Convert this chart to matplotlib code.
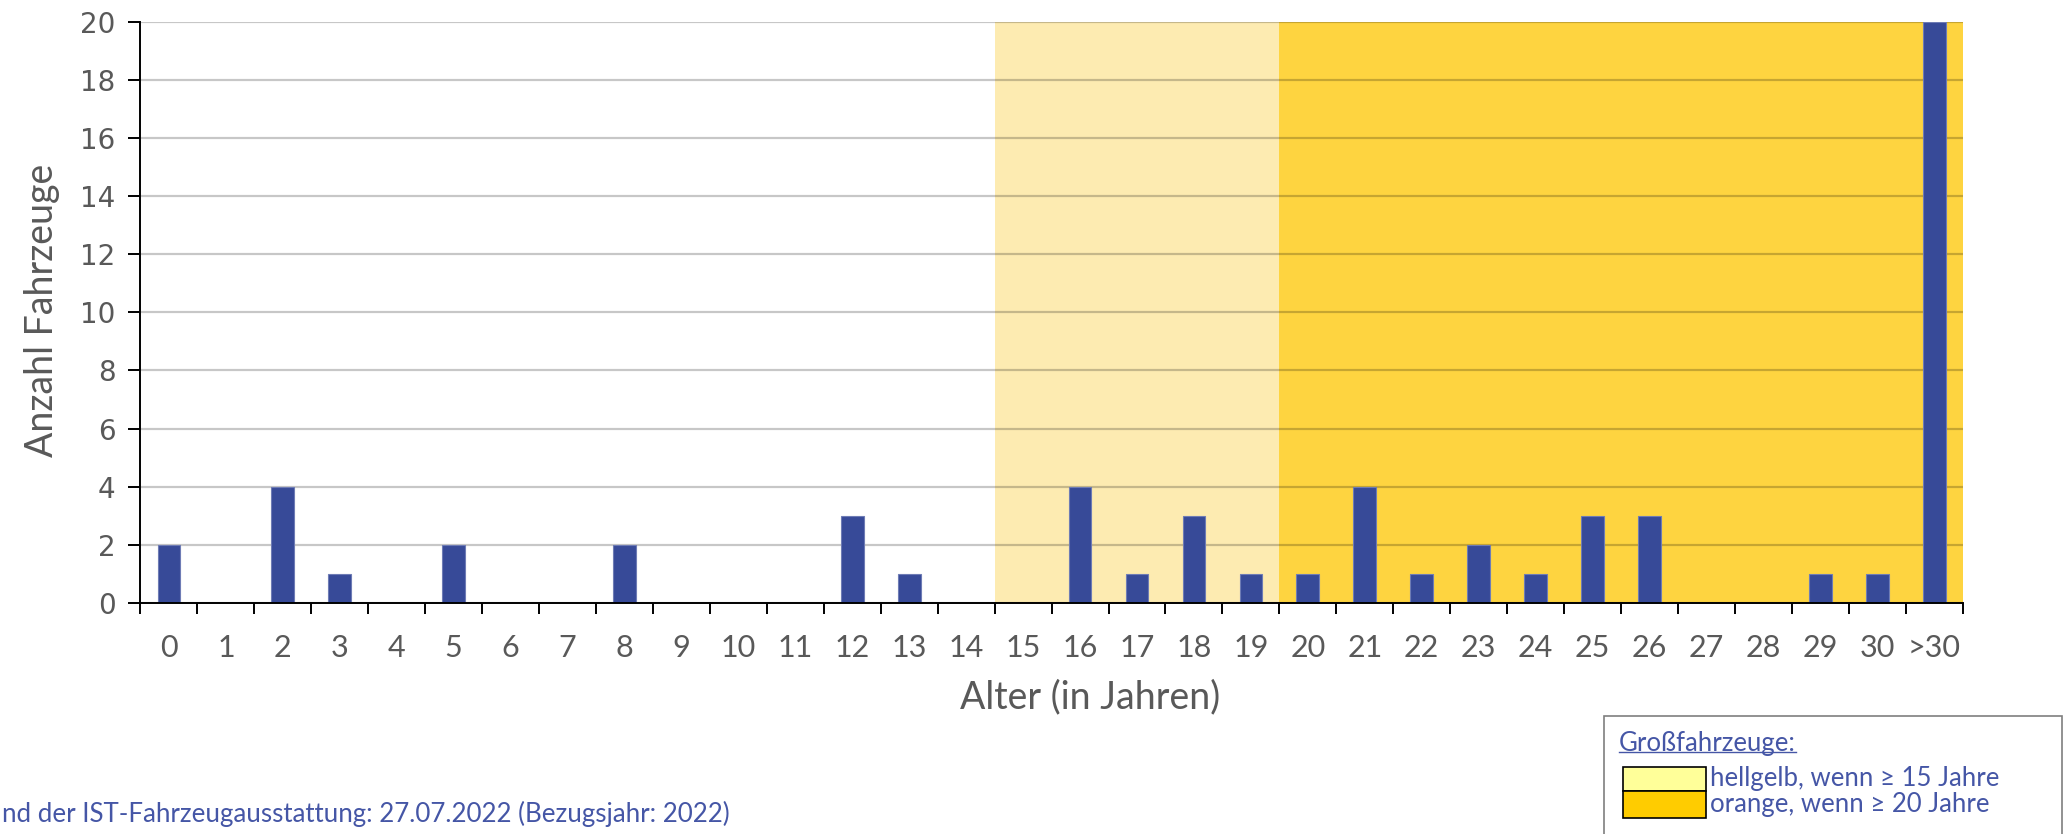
import numpy as np
import matplotlib.pyplot as plt
from matplotlib.patches import Rectangle
from matplotlib.lines import Line2D

# Daten: Alter der Fahrzeuge
kategorien = [str(i) for i in range(31)] + [">30"]
anzahl = [2, 0, 4, 1, 0, 2, 0, 0, 2, 0, 0, 0, 3, 1, 0,
          0, 4, 1, 3, 1, 1, 4, 1, 2, 1, 3, 3, 0, 0, 1, 1, 20]
y_ticks = list(range(0, 21, 2))

# Bereiche (Index der Kategorien)
hellgelb_von, hellgelb_bis = 15, 19
orange_von, orange_bis = 20, 31

# im Original links abgeschnitten
fuss_text = "nd der IST-Fahrzeugausstattung: 27.07.2022 (Bezugsjahr: 2022)"
legende_titel = "Großfahrzeuge:"
legende_texte = ["hellgelb, wenn \u2265 15 Jahre", "orange, wenn \u2265 20 Jahre"]

blau = "#374A98"
grau_text = "#595959"
text_blau = "#4556A6"

fig = plt.figure(figsize=(20.66, 8.34), dpi=100)
ax = fig.add_axes([0.068, 0.277, 0.882, 0.697])

x = np.arange(len(kategorien))
ax.axvspan(hellgelb_von - 0.5, hellgelb_bis + 0.5, color="#FDEBB1", zorder=0.1, lw=0)
ax.axvspan(orange_von - 0.5, orange_bis + 0.5, color="#FED440", zorder=0.1, lw=0)

ax.bar(x, anzahl, width=0.4, color=blau, edgecolor="#6E7CB5", linewidth=0.8, zorder=2)

ax.set_xlim(-0.5, len(kategorien) - 0.5)
ax.set_ylim(0, 20)
ax.set_yticks(y_ticks)
ax.yaxis.grid(True, color="black", alpha=0.22, linewidth=1.6, zorder=0.5)
ax.set_axisbelow(True)

# Striche an den Kategoriegrenzen, Beschriftung in der Mitte
ax.set_xticks(np.arange(-0.5, len(kategorien)), labels=[])
ax.set_xticks(x, labels=kategorien, minor=True)
ax.tick_params(axis="x", which="major", length=8, width=1.4, color="black")
ax.tick_params(axis="x", which="minor", length=0, pad=22, labelsize=22, labelcolor=grau_text)
for t in ax.get_xticklabels(minor=True):
    t.set_family("Lato")
ax.tick_params(axis="y", length=9, width=1.4, pad=9, labelsize=20, labelcolor=grau_text)

for s in ["top", "right"]:
    ax.spines[s].set_visible(False)
ax.spines["left"].set_linewidth(1.4)
ax.spines["bottom"].set_linewidth(1.4)

ax.set_xlabel("Alter (in Jahren)", fontsize=27, family="Lato", color=grau_text)
ax.xaxis.set_label_coords(0.521, -0.163)
ax.xaxis.label.set_verticalalignment("center")
ax.set_ylabel("Anzahl Fahrzeuge", fontsize=27, family="Lato", color=grau_text)
ax.yaxis.set_label_coords(-0.054, 0.504)
ax.yaxis.label.set_verticalalignment("center")

# Fußzeile
fig.text(0.001, 0.024, fuss_text, ha="left", va="center", fontsize=18.6,
         family="Lato", color=text_blau)

# Legendenkasten
fig.patches.append(Rectangle((0.7764, -0.05), 0.2215, 0.1915, transform=fig.transFigure,
                             facecolor="white", edgecolor="#7F7F7F", linewidth=1.2))
titel = fig.text(0.7837, 0.109, legende_titel, ha="left", va="center", fontsize=18.5,
                 family="Lato", color=text_blau)
farben = ["#FFFF99", "#FFCC00"]
kasten_y = [0.0516, 0.0192]
kasten_h = [0.0287, 0.0324]
for f, ky, kh, txt in zip(farben, kasten_y, kasten_h, legende_texte):
    fig.patches.append(Rectangle((0.7856, ky), 0.0402, kh, transform=fig.transFigure,
                                 facecolor=f, edgecolor="black", linewidth=1.2))
    fig.text(0.8275, ky + kh / 2, txt, ha="left", va="center", fontsize=18.5,
             family="Lato", color=text_blau)

# Unterstreichung des Legendentitels
fig.canvas.draw()
bb = titel.get_window_extent().transformed(fig.transFigure.inverted())
fig.add_artist(Line2D([bb.x0, bb.x1], [bb.y0 + 0.004, bb.y0 + 0.004], color=text_blau,
                      linewidth=1.0, transform=fig.transFigure))

plt.savefig("out.png", dpi=100)
